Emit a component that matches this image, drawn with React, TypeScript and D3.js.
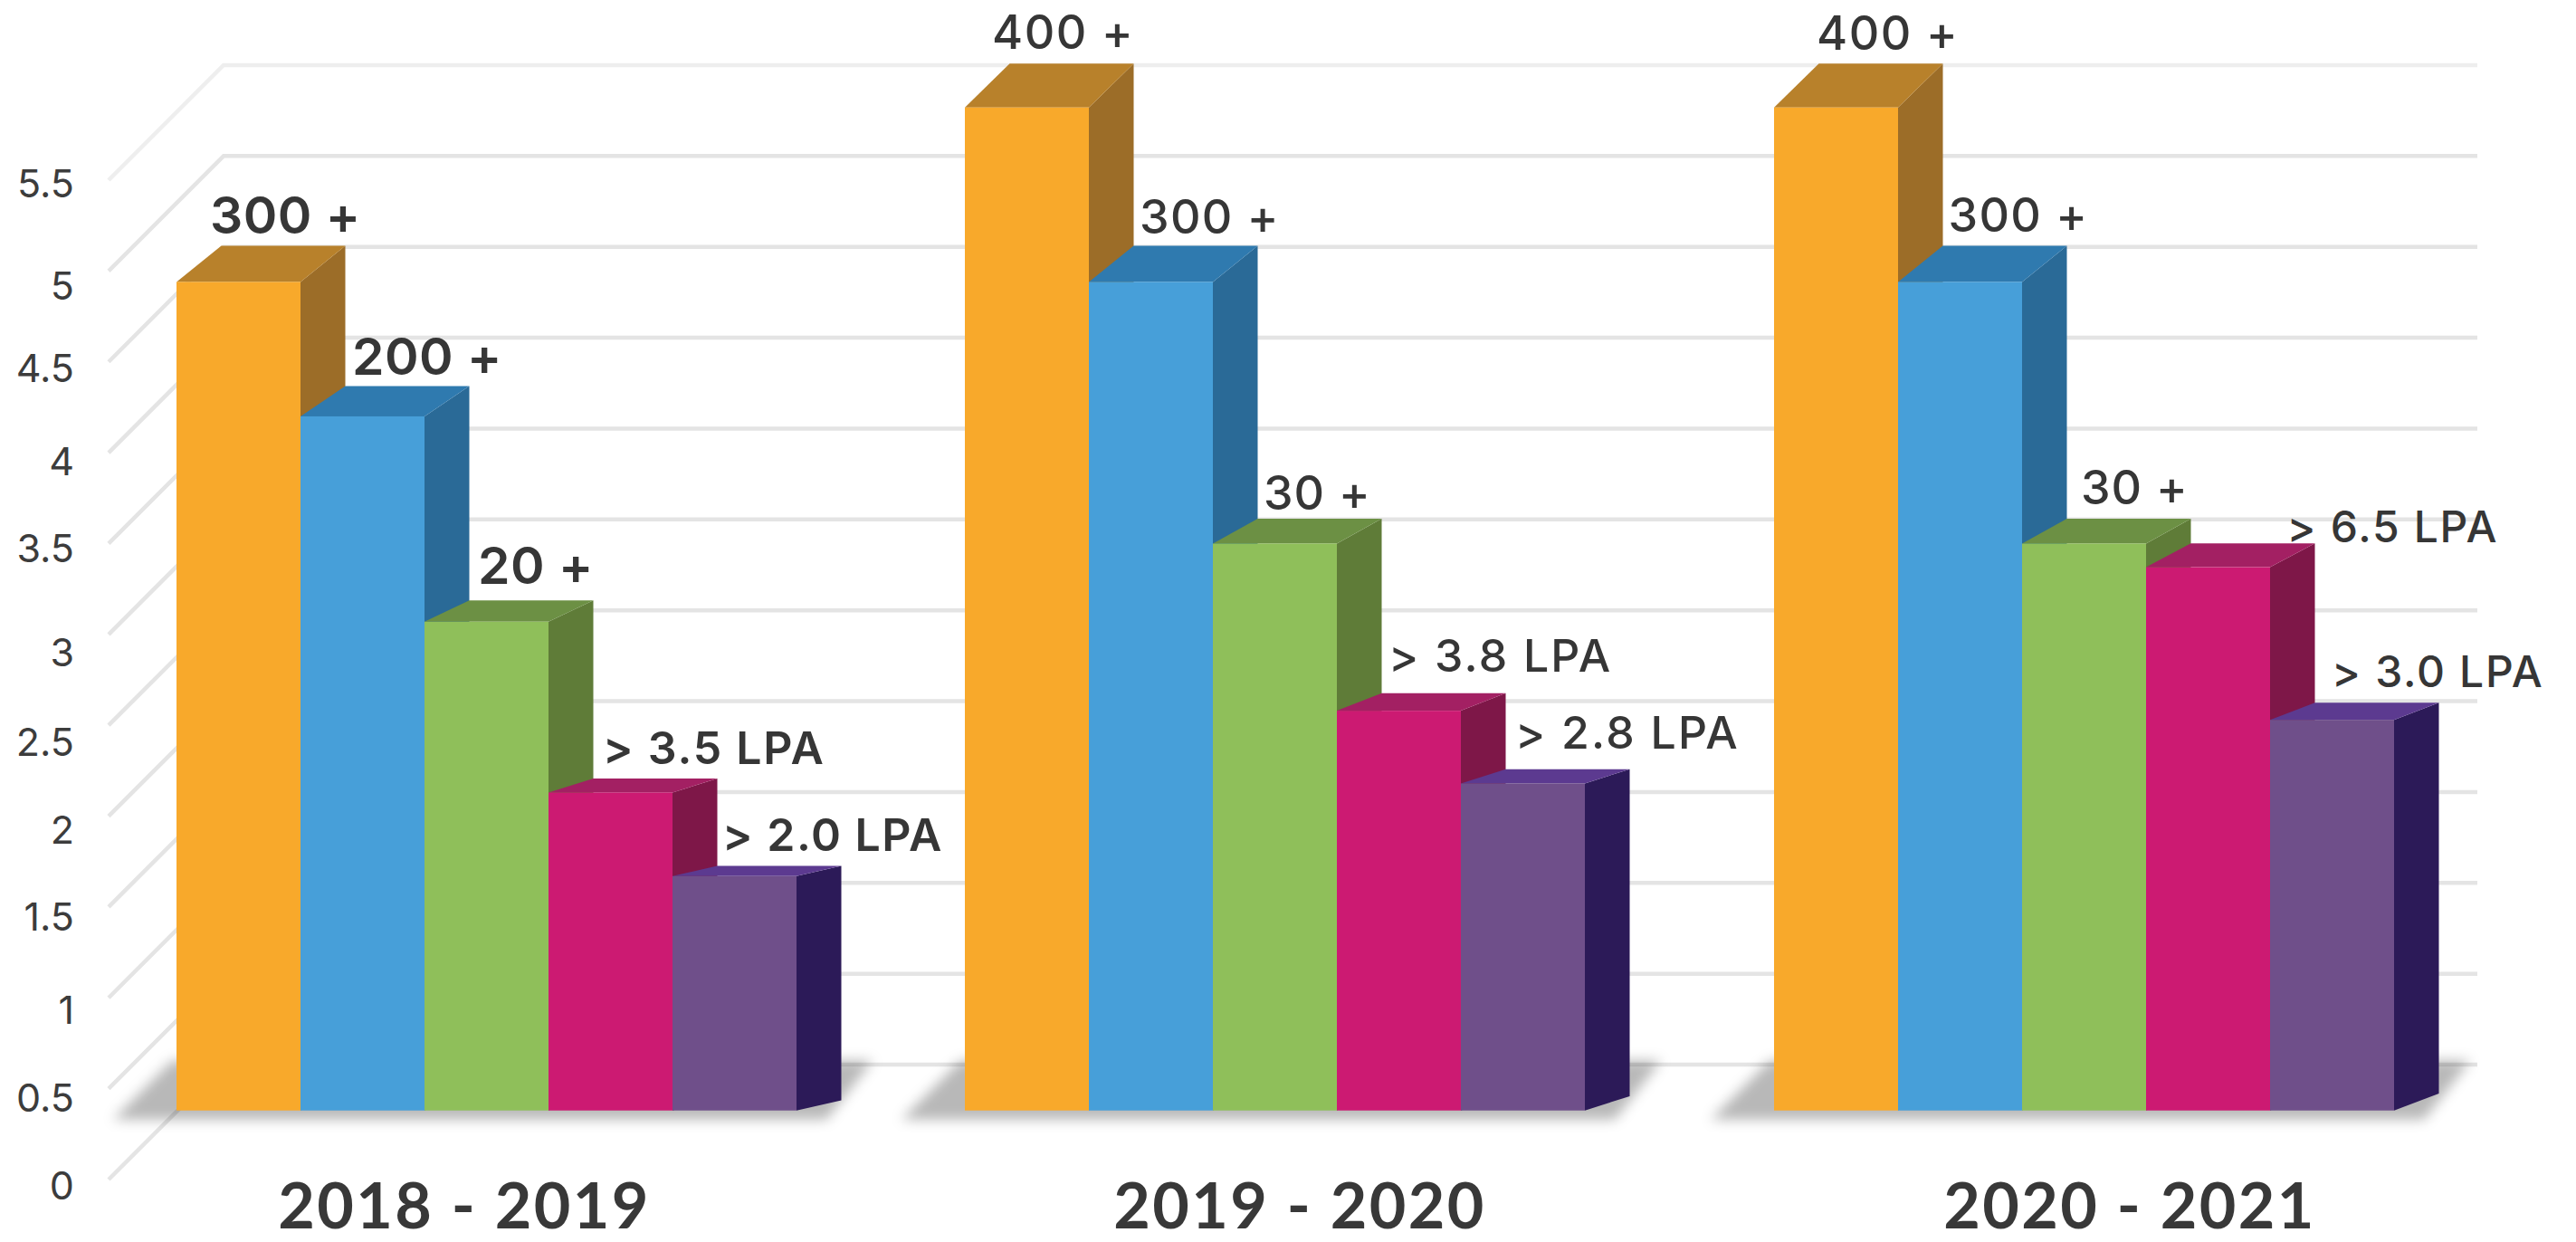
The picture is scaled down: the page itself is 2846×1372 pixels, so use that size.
import React, { useEffect, useRef } from 'react'

import * as d3 from 'd3'

const years = ['2018 - 2019', '2019 - 2020', '2020 - 2021']
const seriesKeys = ['s1', 's2', 's3', 's4', 's5']
const axisTicks = [0, 0.5, 1, 1.5, 2, 2.5, 3, 3.5, 4, 4.5, 5, 5.5]

// bar heights read against the axis, one row per year
const values2018 = [4.94, 4.2, 3.07, 2.13, 1.67]
const values2019 = [5.9, 4.94, 3.5, 2.58, 2.18]
const values2020 = [5.9, 4.94, 3.5, 3.37, 2.53]

const labels2018 = ['300 +', '200 +', '20 +', '> 3.5 LPA', '> 2.0 LPA']
const labels2019 = ['400 +', '300 +', '30 +', '> 3.8 LPA', '> 2.8 LPA']
const labels2020 = ['400 +', '300 +', '30 +', '> 6.5 LPA', '> 3.0 LPA']

const allValues = [values2018, values2019, values2020]
const allLabels = [labels2018, labels2019, labels2020]

const faceColors = ['#f8a92b', '#479fd9', '#8fbf5a', '#cc1a72', '#6f4f8a']
const topColors = ['#b8812b', '#2f7aaf', '#6c9044', '#a32063', '#5c3a90']
const sideColors = ['#9c6d28', '#2a6a97', '#5f7c38', '#7e1748', '#2c1a58']

// hand placed offsets from the original artwork: [dx from bar left, dy from back edge, font size, letter spacing]
const labelPlacement = [
  [[37, -13, 57, 0.5], [57, -12, 57, 0.5], [59, -18, 57, 0.5], [60, -16.5, 50, 1.8], [55, -16.5, 50, 1.5]],
  [[30, -16, 52, 1.5], [56, -13, 52, 1.3], [56, -10, 52, 1], [57, -24, 50, 2.2], [60, -22.5, 50, 2.2]],
  [[47, -15, 52, 1.5], [55.5, -15.5, 52, 1.3], [65, -16, 52, 1], [155.6, -1, 48, 1.7], [68, -17, 48, 1.7]],
]
const tickNudge = [6, 9, 13, 10, 14, 18, 19, 5, 9, 6, 16, 3]

const W = 2846
const H = 1372
const baseValue = 0.38
const gridDepth = 127
const barDepthX = 49.5

const App = () => {
  const svgRef = useRef<SVGSVGElement>(null)

  useEffect(() => {
    if (!svgRef.current) return

    const svg = d3.select(svgRef.current)

    const y = d3.scaleLinear().domain([0, 5.5]).range([1303, 199])
    const x0 = d3.scaleOrdinal<string, number>().domain(years).range([195, 1066, 1960])
    const xTitle = d3.scaleOrdinal<string, number>().domain(years).range([513, 1436, 2353])
    const x1 = d3.scaleBand().domain(seriesKeys).range([0, 685])
    // the artwork fakes perspective: taller bars show a deeper top face
    const depth = d3.scaleLinear().domain([1.67, 4.94]).range([11.3, 40])
    const poly = d3.line()

    const defs = svg.append('defs')
    defs
      .append('filter')
      .attr('id', 'floor-blur')
      .attr('x', '-10%')
      .attr('y', '-50%')
      .attr('width', '120%')
      .attr('height', '200%')
      .append('feGaussianBlur')
      .attr('stdDeviation', 7)

    // grid: diagonal wall line plus the long horizontal
    svg
      .append('g')
      .selectAll('path')
      .data(axisTicks)
      .join('path')
      .attr('fill', 'none')
      .attr('stroke', (d) => (d === 5.5 ? '#eeeeee' : '#e4e4e4'))
      .attr('stroke-width', 4.5)
      .attr('d', (d) =>
        poly([
          [120, y(d)],
          [120 + gridDepth, y(d) - gridDepth],
          [2737, y(d) - gridDepth],
        ]),
      )

    // y axis, labels only
    const axis = d3
      .axisLeft(y)
      .tickValues(axisTicks)
      .tickFormat((d) => String(d))
      .tickSize(0)
      .tickPadding(0)
    const axisG = svg.append('g').attr('transform', 'translate(82,0)').call(axis)
    axisG.select('.domain').remove()
    axisG
      .selectAll<SVGGElement, number>('.tick text')
      .attr('font-family', 'Inter')
      .attr('font-size', 43)
      .attr('font-weight', 400)
      .attr('fill', '#3c3c3c')
      .attr('dy', '0.36em')
      .attr('y', (d) => tickNudge[axisTicks.indexOf(d)])

    years.forEach((year, g) => {
      const left = x0(year)
      const right = left + x1.range()[1]
      const base = y(baseValue)

      // floor shadow
      svg
        .append('path')
        .attr('fill', '#000')
        .attr('fill-opacity', 0.28)
        .attr('filter', 'url(#floor-blur)')
        .attr(
          'd',
          poly([
            [left - 70, base + 10],
            [left - 5, base - 55],
            [right + 84, base - 55],
            [right + 33, base + 10],
          ]) + 'Z',
        )

      const group = svg.append('g')
      seriesKeys.forEach((key, i) => {
        const v = allValues[g][i]
        const xl = left + (x1(key) as number)
        const xr = xl + x1.bandwidth()
        const top = y(v)
        const dy = depth(v)

        group
          .append('path')
          .attr('fill', sideColors[i])
          .attr(
            'd',
            poly([
              [xr, top],
              [xr + barDepthX, top - dy],
              [xr + barDepthX, base - dy],
              [xr, base],
            ]) + 'Z',
          )
        group
          .append('path')
          .attr('fill', topColors[i])
          .attr(
            'd',
            poly([
              [xl, top],
              [xl + barDepthX, top - dy],
              [xr + barDepthX, top - dy],
              [xr, top],
            ]) + 'Z',
          )
        group
          .append('rect')
          .attr('x', xl)
          .attr('y', top)
          .attr('width', xr - xl)
          .attr('height', base - top)
          .attr('fill', faceColors[i])
      })

      seriesKeys.forEach((key, i) => {
        const v = allValues[g][i]
        const [dx, off, size, spacing] = labelPlacement[g][i]
        group
          .append('text')
          .attr('x', left + (x1(key) as number) + dx)
          .attr('y', y(v) - depth(v) + off)
          .attr('font-family', 'Inter')
          .attr('font-size', size)
          .attr('font-weight', g === 0 ? 600 : 500)
          .attr('letter-spacing', spacing)
          .attr('fill', '#363636')
          .text(allLabels[g][i])
      })

      // title sits just above the bottom edge, no descenders in it
      svg
        .append('text')
        .attr('x', xTitle(year))
        .attr('y', 1357)
        .attr('text-anchor', 'middle')
        .attr('font-family', 'Lato')
        .attr('font-size', 70)
        .attr('font-weight', 700)
        .attr('letter-spacing', 2.4)
        .attr('fill', '#383838')
        .text(year)
    })

    return () => {
      svg.selectAll('*').remove()
    }
  }, [])

  return (
    <svg
      ref={svgRef}
      width={W}
      height={H}
      viewBox={`0 0 ${W} ${H}`}
      style={{ position: 'absolute', left: 0, top: 0, background: '#fff' }}
    />
  )
}

export default App
